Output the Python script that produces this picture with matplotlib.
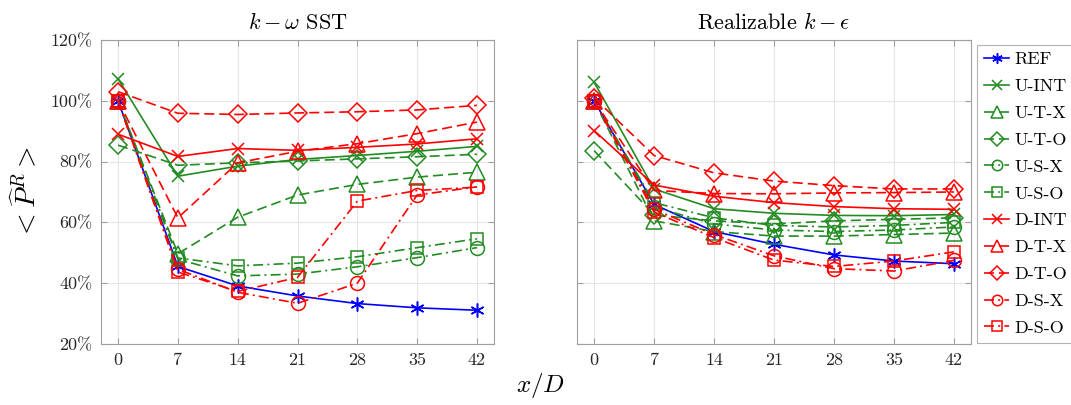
import matplotlib
matplotlib.use("Agg")
import matplotlib.pyplot as plt
from matplotlib.ticker import FuncFormatter

plt.rcParams['font.family'] = ['cmr10', 'DejaVu Serif']
plt.rcParams['mathtext.fontset'] = 'cm'
plt.rcParams['axes.unicode_minus'] = False

x = [0, 7, 14, 21, 28, 35, 42]
labels = ["REF", "U-INT", "U-T-X", "U-T-O", "U-S-X", "U-S-O",
          "D-INT", "D-T-X", "D-T-O", "D-S-X", "D-S-O"]

# k-omega SST panel
sst_ref   = [100, 45.5, 39.1, 35.8, 33.3, 31.9, 31.1]
sst_uint  = [107.2, 75.2, 78.5, 80.7, 82.0, 83.4, 85.0]
sst_utx   = [100, 49.7, 61.7, 69.0, 72.5, 74.9, 76.5]
sst_uto   = [85.4, 78.8, 79.6, 80.2, 80.9, 81.6, 82.4]
sst_usx   = [100, 47.9, 42.4, 43.0, 45.4, 48.4, 51.7]
sst_uso   = [100, 48.3, 45.7, 46.6, 48.7, 51.7, 54.6]
sst_dint  = [89.0, 81.7, 84.3, 83.7, 84.7, 85.8, 87.5]
sst_dtx   = [100, 61.5, 79.6, 83.4, 85.9, 89.2, 93.0]
sst_dto   = [103.0, 95.9, 95.5, 96.0, 96.4, 97.0, 98.5]
sst_dsx   = [100, 44.6, 37.0, 33.4, 40.0, 69.0, 71.7]
sst_dso   = [100, 43.7, 37.3, 41.9, 67.0, 70.5, 71.6]

# Realizable k-epsilon panel
rke_ref   = [100, 65.9, 57.0, 52.8, 49.3, 47.3, 46.4]
rke_uint  = [106.1, 71.0, 64.5, 63.0, 62.3, 62.2, 62.6]
rke_utx   = [100, 60.5, 57.0, 55.5, 55.5, 56.0, 56.5]
rke_uto   = [83.6, 62.5, 60.5, 59.5, 60.5, 61.0, 61.5]
rke_usx   = [100, 65.0, 59.5, 57.5, 57.0, 57.5, 58.5]
rke_uso   = [100, 66.5, 61.5, 59.0, 58.5, 59.0, 60.0]
rke_dint  = [90.2, 72.3, 68.6, 66.5, 65.2, 64.5, 64.3]
rke_dtx   = [100, 70.5, 69.5, 69.4, 69.7, 69.8, 70.0]
rke_dto   = [101.0, 82.0, 76.3, 73.6, 72.1, 71.0, 71.0]
rke_dsx   = [100, 64.3, 56.0, 49.0, 44.8, 44.0, 47.5]
rke_dso   = [100, 63.4, 55.0, 47.6, 45.5, 47.3, 50.3]

sst = [sst_ref, sst_uint, sst_utx, sst_uto, sst_usx, sst_uso,
       sst_dint, sst_dtx, sst_dto, sst_dsx, sst_dso]
rke = [rke_ref, rke_uint, rke_utx, rke_uto, rke_usx, rke_uso,
       rke_dint, rke_dtx, rke_dto, rke_dsx, rke_dso]

blue = "#0000FF"
green = "#228B22"
red = "#FF0000"
dash = (0, (6, 3))
dashdot = (0, (6, 2.5, 1.2, 2.5))
asterisk = (6, 2, 0)
styles = [
    (blue, "-", asterisk, 10),
    (green, "-", "x", 9),
    (green, dash, "^", 11),
    (green, dash, "D", 9),
    (green, dashdot, "o", 10),
    (green, dashdot, "s", 9),
    (red, "-", "x", 9),
    (red, dash, "^", 11),
    (red, dash, "D", 9),
    (red, dashdot, "o", 10),
    (red, dashdot, "s", 9),
]

W, H = 1071, 405
fig = plt.figure(figsize=(W / 100, H / 100), dpi=100)
ax1 = fig.add_axes([101 / W, 1 - 344 / H, (494 - 101) / W, (344 - 40) / H])
ax2 = fig.add_axes([577 / W, 1 - 344 / H, (971 - 577) / W, (344 - 40) / H])

for ax, data, title in [(ax1, sst, r"$k-\omega$ SST"),
                        (ax2, rke, r"Realizable $k-\epsilon$")]:
    for d, (c, ls, m, ms), lab in zip(data, styles, labels):
        ax.plot(x, d, color=c, linestyle=ls, marker=m, markersize=ms,
                markerfacecolor="none", markeredgecolor=c, markeredgewidth=1.1,
                linewidth=1.2, label=lab)
    ax.set_xlim(-2, 44)
    ax.set_ylim(20, 120)
    ax.set_xticks(x)
    ax.set_yticks([20, 40, 60, 80, 100, 120])
    ax.grid(True, color="#e6e6e6", linewidth=0.8)
    ax.set_axisbelow(True)
    for sp in ax.spines.values():
        sp.set_color("#a0a0a0")
        sp.set_linewidth(0.8)
    ax.tick_params(direction="in", length=4, color="#a0a0a0", labelsize=13,
                   labelcolor="#262626", top=True, right=True, pad=6)
    ax.set_title(title, fontsize=16, pad=8)

ax1.yaxis.set_major_formatter(FuncFormatter(lambda v, p: "%d%%" % v))
ax2.set_yticklabels([])
ax1.set_ylabel(r"$<\widehat{P}^R>$", fontsize=20, labelpad=6)
fig.text(540 / W, 1 - 385 / H, r"$x/D$", fontsize=18, ha="center", va="center")

leg = ax2.legend(loc="upper left", bbox_to_anchor=(1.015, 0.985), fontsize=13,
                 frameon=True, fancybox=False, edgecolor="#a0a0a0",
                 handlelength=1.4, handletextpad=0.3, borderpad=0.4,
                 labelspacing=0.62, borderaxespad=0.0, markerscale=0.75)
leg.get_frame().set_linewidth(0.8)

fig.savefig("out.png", dpi=100)
